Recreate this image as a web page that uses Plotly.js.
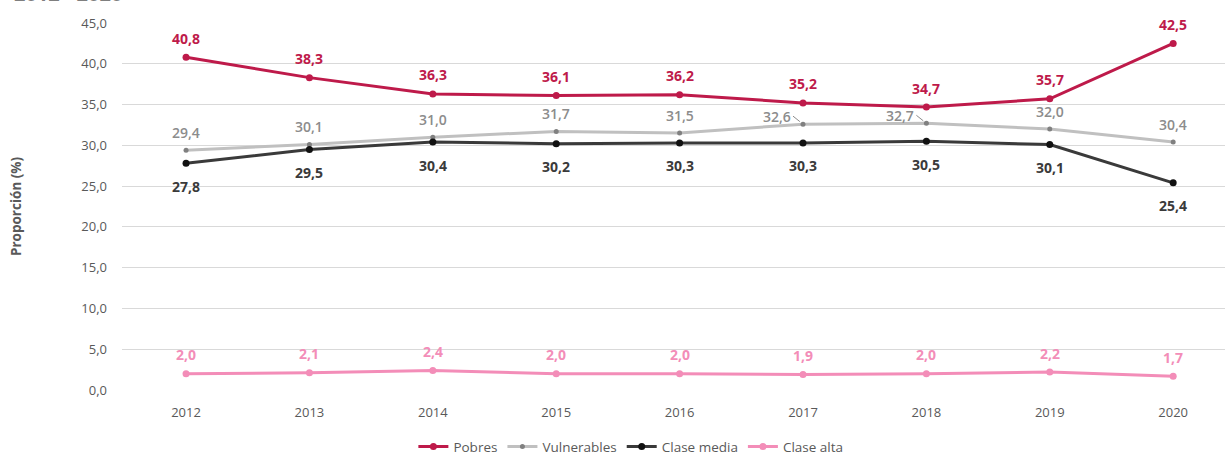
<!DOCTYPE html>
<html>
<head>
<meta charset="utf-8">
<script src="https://cdn.plot.ly/plotly-3.0.1.min.js"></script>
<style>html,body{margin:0;padding:0;background:#fff;}#chart{width:1225px;height:455px;}</style>
</head>
<body>
<div id="chart"></div>
<script>
const years = [2012, 2013, 2014, 2015, 2016, 2017, 2018, 2019, 2020];
const pobres = [40.8, 38.3, 36.3, 36.1, 36.2, 35.2, 34.7, 35.7, 42.5];
const vulnerables = [29.4, 30.1, 31.0, 31.7, 31.5, 32.6, 32.7, 32.0, 30.4];
const claseMedia = [27.8, 29.5, 30.4, 30.2, 30.3, 30.3, 30.5, 30.1, 25.4];
const claseAlta = [2.0, 2.1, 2.4, 2.0, 2.0, 1.9, 2.0, 2.2, 1.7];
const yTicks = [0, 5, 10, 15, 20, 25, 30, 35, 40, 45];

const fmt = v => v.toFixed(1).replace('.', ',');
const FONT = 'Open Sans, Segoe UI, sans-serif';

const vulnCalloutIdx = [5, 6];

const series = [
  {name: 'Pobres', y: pobres, line: '#BE1A4A', mk: '#BE1A4A', ms: 7, lab: '#BE1A4A', w: 700, shift: 19},
  {name: 'Vulnerables', y: vulnerables, line: '#C0C0C0', mk: '#808080', ms: 5, lab: '#8C8C8C', w: 600, shift: 18},
  {name: 'Clase media', y: claseMedia, line: '#3A3A3A', mk: '#111111', ms: 7, lab: '#3A3A3A', w: 700, shift: -23},
  {name: 'Clase alta', y: claseAlta, line: '#F38DB8', mk: '#F38DB8', ms: 7, lab: '#F38DB8', w: 700, shift: 19}
];

const traces = series.map(s => ({
  name: s.name, x: years, y: s.y, mode: 'lines+markers',
  line: {color: s.line, width: 3}, marker: {color: s.mk, size: s.ms}
}));

const annotations = [];
series.forEach(s => {
  s.y.forEach((v, i) => {
    if (s.name === 'Vulnerables' && vulnCalloutIdx.includes(i)) {
      annotations.push({
        x: years[i], y: v, xref: 'x', yref: 'y', text: fmt(v),
        showarrow: true, arrowhead: 0, arrowwidth: 1, arrowcolor: '#8C8C8C',
        ax: -10, ay: -8, standoff: 4, xanchor: 'right', yanchor: 'middle',
        font: {family: FONT, size: 14, color: s.lab, weight: s.w}
      });
    } else {
      annotations.push({
        x: years[i], y: v, xref: 'x', yref: 'y', text: fmt(v), showarrow: false,
        xanchor: 'center', yanchor: 'middle', yshift: s.shift,
        font: {family: FONT, size: 14, color: s.lab, weight: s.w}
      });
    }
  });
});
annotations.push({
  xref: 'paper', yref: 'paper', x: -0.1, y: 1.037, xanchor: 'left', yanchor: 'bottom',
  text: '2012 - 2020', showarrow: false,
  font: {family: FONT, size: 20, color: '#7F7F7F', weight: 700}
});

const layout = {
  width: 1225, height: 455,
  margin: {l: 122, r: 0, t: 23, b: 65},
  paper_bgcolor: '#ffffff', plot_bgcolor: '#ffffff',
  separators: ',.',
  font: {family: FONT, size: 13, color: '#595959'},
  showlegend: true,
  legend: {orientation: 'h', x: 0.515, xref: 'container', xanchor: 'center',
           y: 0.018, yref: 'container', yanchor: 'middle',
           font: {family: FONT, size: 13.5, color: '#595959'}, itemwidth: 30, tracegroupgap: 0},
  xaxis: {
    type: 'linear', range: [-0.519 + 2012, 8.42 + 2012], tickvals: years, ticktext: years.map(String),
    showgrid: false, zeroline: false, showline: false, ticks: '', ticklabelstandoff: 13,
    tickfont: {family: FONT, size: 13, color: '#595959'}
  },
  yaxis: {
    range: [0, 45], tickvals: yTicks, ticktext: yTicks.map(fmt),
    showgrid: true, gridcolor: '#D9D9D9', gridwidth: 1, zeroline: false,
    ticks: '', ticklabelstandoff: 14,
    tickfont: {family: FONT, size: 13, color: '#595959'},
    title: {text: 'Proporción (%)', standoff: 56, font: {family: FONT, size: 13.5, color: '#595959', weight: 700}}
  },
  annotations: annotations
};

Plotly.newPlot('chart', traces, layout, {displayModeBar: false, staticPlot: true});
</script>
</body>
</html>
